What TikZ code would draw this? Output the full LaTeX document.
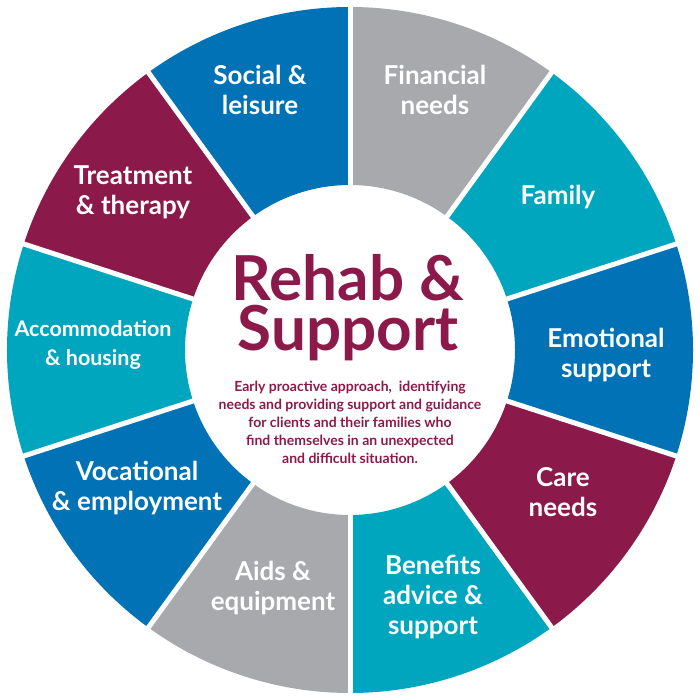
\documentclass[tikz,border=0pt]{standalone}
\usepackage{fontspec}
\setmainfont{Lato}
\definecolor{cgray}{HTML}{A7A9AC}
\definecolor{cteal}{HTML}{00A6BE}
\definecolor{cblue}{HTML}{0072B5}
\definecolor{cmaroon}{HTML}{8B1A4B}
\begin{document}
\begin{tikzpicture}[x=1pt,y=1pt,
  lab/.style={text=white,font=\fontsize{26}{30}\selectfont\bfseries,align=center},
  gap/.style={white,line width=5pt}]
\useasboundingbox (-350,-350) rectangle (350,350);
\foreach \i/\c in {0/cgray,1/cteal,2/cblue,3/cmaroon,4/cteal,5/cgray,6/cblue,7/cteal,8/cmaroon,9/cblue}{
  \pgfmathsetmacro{\a}{90-36*\i}
  \pgfmathsetmacro{\b}{54-36*\i}
  \fill[\c] (\a:165pt) -- (\a:343pt) arc[start angle=\a,end angle=\b,radius=343pt] -- (\b:165pt) arc[start angle=\b,end angle=\a,radius=165pt] -- cycle;
}
\foreach \i in {0,...,9}{
  \pgfmathsetmacro{\a}{90-36*\i}
  \draw[gap] (\a:160pt) -- (\a:348pt);
}
\node[lab] (social) at (-90,260) {Social \&\\leisure};
\node[lab] (fin) at (85,260) {Financial\\needs};
\node[lab] (fam) at (208,153) {Family};
\node[lab] (emo) at (256,-5) {Emotional\\support};
\node[lab] (care) at (213,-142) {Care\\needs};
\node[lab] (ben) at (83,-247) {Benefits\\advice \&\\support};
\node[lab] (aids) at (-77,-238) {Aids \&\\equipment};
\node[lab] (voc) at (-213,-138) {Vocational\\\& employment};
\node[lab,font=\fontsize{21.5}{29}\selectfont\bfseries] (acc) at (-257,5) {Accommodation\\\& housing};
\node[lab] (treat) at (-217,158) {Treatment\\\& therapy};
\node[text=cmaroon,font=\fontsize{62}{50}\selectfont\bfseries,align=center] (title) at (-2,42) {Rehab \&\\Support};
\node[text=cmaroon,font=\fontsize{14}{18}\selectfont\bfseries,align=center] (desc) at (0,-72) {Early proactive approach,\ \ identifying\\needs and providing support and guidance\\for clients and their families who\\find themselves in an unexpected\\and difficult situation.};
\end{tikzpicture}
\end{document}
